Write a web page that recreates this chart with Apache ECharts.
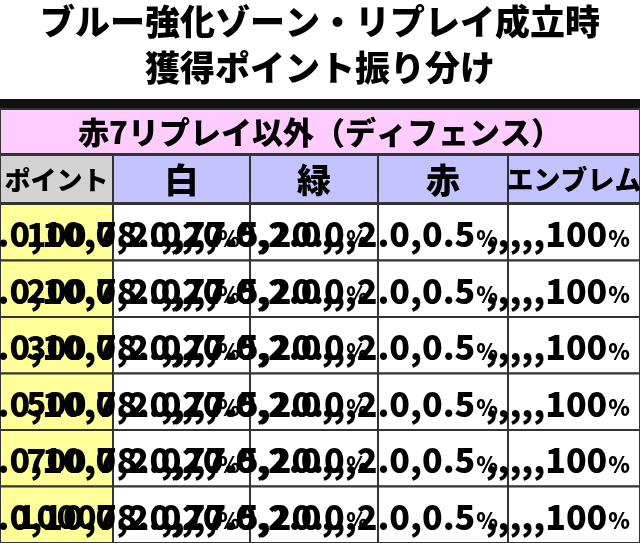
<!DOCTYPE html><html><head><meta charset="utf-8">
<script src="https://cdn.jsdelivr.net/npm/echarts@6/dist/echarts.min.js"></script>
<style>html,body{margin:0;padding:0;background:#fff}#c{width:640px;height:543px}</style></head><body><div id="c"></div>
<script>
const titleLines = ['ブルー強化ゾーン・リプレイ成立時','獲得ポイント振り分け'];
const subTitle = '赤7リプレイ以外（ディフェンス）';
const headers = ['ポイント','白','緑','赤','エンブレム'];
const points = ['100','200','300','500','700','1000'];
const white = ['88.0','10.0','2.0',null,null,null];
const green = [null,'78.0','20.0','2.0',null,null];
const red = [null,null,'77.5','20.0','2.0','0.5'];
const emblem = [null,null,null,null,null,'100'];

const colEdges = [0,113,250,378,508,640];
const F = '"Noto Sans CJK JP", sans-serif';
const cols = [white, green, red, emblem];
const data = [], labels = [];
points.forEach((p,r)=>{
  data.push([0,r]); labels.push(p);
  cols.forEach((c,i)=>{ data.push([i+1,r]); labels.push(c==null?'':c); });
});

const chart = echarts.init(document.getElementById('c'));
const graphics = [
  {type:'text',left:'center',top:4,style:{text:titleLines[0],font:'900 35px '+F,fill:'#000'}},
  {type:'text',left:'center',top:50,style:{text:titleLines[1],font:'900 35px '+F,fill:'#000'}},
  {type:'rect',shape:{x:0,y:99,width:640,height:10},style:{fill:'#111'}},
  {type:'rect',shape:{x:0,y:109,width:640,height:45},style:{fill:'#FFCCFF',stroke:'#333',lineWidth:2}},
  {type:'text',x:320,y:132,style:{text:subTitle,font:'900 31px '+F,fill:'#000',align:'center',verticalAlign:'middle'}}
];
headers.forEach((h,i)=>{
  graphics.push({type:'rect',shape:{x:colEdges[i],y:155,width:colEdges[i+1]-colEdges[i],height:48},style:{fill:i===0?'#D2D2D2':'#C3C3FF',stroke:'#333',lineWidth:2}});
  graphics.push({type:'text',x:(colEdges[i]+colEdges[i+1])/2,y:180,style:{text:h,font:'900 '+(i===0?26:(i===4?27:34))+'px '+F,fill:'#000',align:'center',verticalAlign:'middle'}});
});
chart.setOption({
  animation:false,
  graphic:graphics,
  grid:{left:0,right:0,top:204,bottom:0},
  xAxis:{type:'value',min:0,max:640,show:false},
  yAxis:{type:'value',min:-0.5,max:5.5,inverse:true,show:false},
  series:[{type:'custom',data:data,renderItem:(params,api)=>{
    const c=api.value(0), r=api.value(1);
    const txt=labels[params.dataIndex];
    const yTop=api.coord([0,r-0.5])[1], yBot=api.coord([0,r+0.5])[1];
    const cy=(yTop+yBot)/2, h=yBot-yTop;
    const x0=colEdges[c], x1=colEdges[c+1];
    const children=[{type:'rect',shape:{x:x0,y:yTop,width:x1-x0,height:h},style:{fill:c===0?'#FFFF99':'#fff',stroke:'#333',lineWidth:2}}];
    if(c===0){
      children.push({type:'text',x:(x0+x1)/2,y:cy+2,style:{text:txt,font:'900 33px '+F,fill:'#000',align:'center',verticalAlign:'middle'}});
    } else if(txt===''){
      children.push({type:'rect',shape:{x:x1-74,y:cy-1,width:62,height:3},style:{fill:'#000'}});
    } else {
      children.push({type:'text',x:x1-10,y:cy+2,style:{text:'{a|'+txt+'}{b|%}',align:'right',verticalAlign:'middle',rich:{a:{font:'900 34px '+F,fill:'#000'},b:{font:'900 22px '+F,fill:'#000',padding:[8,0,0,1]}}}});
    }
    return {type:'group',children};
  }}]
});
</script></body></html>
